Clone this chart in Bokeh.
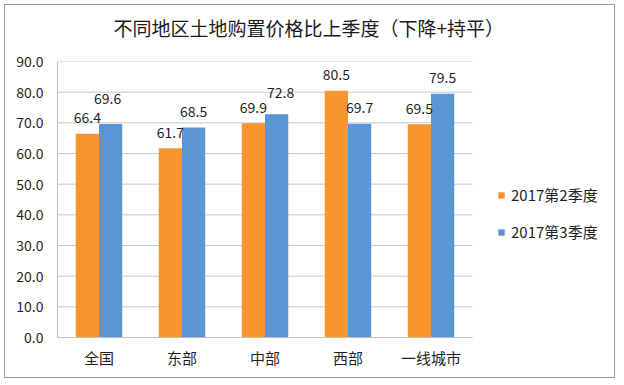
from bokeh.plotting import figure
from bokeh.models import ColumnDataSource, FixedTicker, NumeralTickFormatter, Legend, LegendItem, Range1d, Title
from bokeh.transform import dodge
from bokeh.core.properties import value
from bokeh.embed import file_html
from bokeh.resources import INLINE

# ---- data ----
categories = ["全国", "东部", "中部", "西部", "一线城市"]
series_names = ["2017第2季度", "2017第3季度"]
q2_values = [66.4, 61.7, 69.9, 80.5, 69.5]
q3_values = [69.6, 68.5, 72.8, 69.7, 79.5]
y_ticks = [0, 10, 20, 30, 40, 50, 60, 70, 80, 90]
title_text = "不同地区土地购置价格比上季度（下降+持平）"

# label placement tweaks (pixels), style only
q2_label_dx = [0, 0, 0, 0, 0]
q2_label_dy = [-16, -16, -16, -16, -16]
q3_label_dx = [-3, 0, 4, 0, 0]
q3_label_dy = [-26, -16, -22, -16, -16]

ORANGE = "#F7952F"
BLUE = "#5B95D5"
FONT = "Noto Sans CJK SC"
TEXT_COLOR = "#1f1f1f"
GRID = "#c8c8c8"

n = len(categories)
x_idx = list(range(n))

src = ColumnDataSource(dict(
    x=x_idx,
    q2=q2_values,
    q3=q3_values,
    q2_txt=["%.1f" % v for v in q2_values],
    q3_txt=["%.1f" % v for v in q3_values],
    q2_dx=q2_label_dx, q2_dy=q2_label_dy,
    q3_dx=q3_label_dx, q3_dy=q3_label_dy,
))

W, H = 611, 374
LEFT, TOP, BOTTOM = 52, 56, 42
CAT_PX = 83.0  # pixel width of one category
x_end = -0.5 + (W - LEFT) / CAT_PX

p = figure(
    x_range=Range1d(-0.5, x_end), y_range=Range1d(y_ticks[0], y_ticks[-1]),
    width=W, height=H,
    output_backend="svg", toolbar_location=None,
    min_border_left=LEFT, min_border_right=0, min_border_top=TOP, min_border_bottom=BOTTOM,
    title=title_text,
)
p.margin = (4, 0, 0, 4)
p.styles = {"border": "1px solid #9a9a9a"}
p.outline_line_color = None
p.background_fill_color = "white"
p.border_fill_color = "white"

p.title.text_font = FONT
p.title.text_font_size = "19px"
p.title.text_font_style = "normal"
p.title.text_color = "#1a1a1a"
p.title.align = "left"
p.title.offset = 56
p.title.standoff = 10

# invisible spacer between the title and the plot area
p.add_layout(Title(text=" ", text_font_size="1px", standoff=13), "above")

# horizontal gridlines limited to the category area
p.segment(x0=[-0.5] * len(y_ticks), x1=[n - 0.5] * len(y_ticks), y0=y_ticks, y1=y_ticks,
          line_color=GRID, line_width=1)

r1 = p.vbar(x=dodge("x", -0.14), top="q2", width=0.28, source=src,
            fill_color=ORANGE, line_color=None)
r2 = p.vbar(x=dodge("x", 0.14), top="q3", width=0.28, source=src,
            fill_color=BLUE, line_color=None)

p.text(x=dodge("x", -0.14), y="q2", text="q2_txt", source=src,
       x_offset="q2_dx", y_offset="q2_dy",
       text_align="center", text_baseline="middle", text_font=value(FONT),
       text_font_size="14px", text_color=TEXT_COLOR)
p.text(x=dodge("x", 0.14), y="q3", text="q3_txt", source=src,
       x_offset="q3_dx", y_offset="q3_dy",
       text_align="center", text_baseline="middle", text_font=value(FONT),
       text_font_size="14px", text_color=TEXT_COLOR)

# axes
p.yaxis.ticker = FixedTicker(ticks=y_ticks)
p.yaxis.formatter = NumeralTickFormatter(format="0.0")
p.yaxis.major_tick_line_color = None
p.yaxis.minor_tick_line_color = None
p.yaxis.major_tick_out = 0
p.yaxis.major_tick_in = 0
p.yaxis.axis_line_color = "#bfbfbf"
p.yaxis.major_label_standoff = 14
p.yaxis.major_label_text_font = FONT
p.yaxis.major_label_text_font_size = "14px"
p.yaxis.major_label_text_color = TEXT_COLOR

p.xaxis.ticker = FixedTicker(ticks=x_idx)
p.xaxis.major_label_overrides = {i: c for i, c in zip(x_idx, categories)}
p.xaxis.bounds = (-0.5, n - 0.5)
p.xaxis.major_tick_line_color = None
p.xaxis.minor_tick_line_color = None
p.xaxis.major_tick_out = 0
p.xaxis.major_tick_in = 0
p.xaxis.axis_line_color = "#bfbfbf"
p.xaxis.major_label_standoff = 9
p.xaxis.major_label_text_font = FONT
p.xaxis.major_label_text_font_size = "15px"
p.xaxis.major_label_text_color = TEXT_COLOR

p.xgrid.grid_line_color = None
p.ygrid.grid_line_color = None

legend = Legend(items=[LegendItem(label=series_names[0], renderers=[r1]),
                       LegendItem(label=series_names[1], renderers=[r2])],
                location=(440, 95), orientation="vertical")
legend.glyph_width = 8
legend.glyph_height = 8
legend.label_height = 20
legend.spacing = 16
legend.padding = 0
legend.margin = 0
legend.label_standoff = 6
legend.border_line_color = None
legend.background_fill_alpha = 0
legend.label_text_font = FONT
legend.label_text_font_size = "15px"
legend.label_text_color = TEXT_COLOR
p.add_layout(legend, "center")

open("out.html", "w").write(file_html(p, INLINE))
